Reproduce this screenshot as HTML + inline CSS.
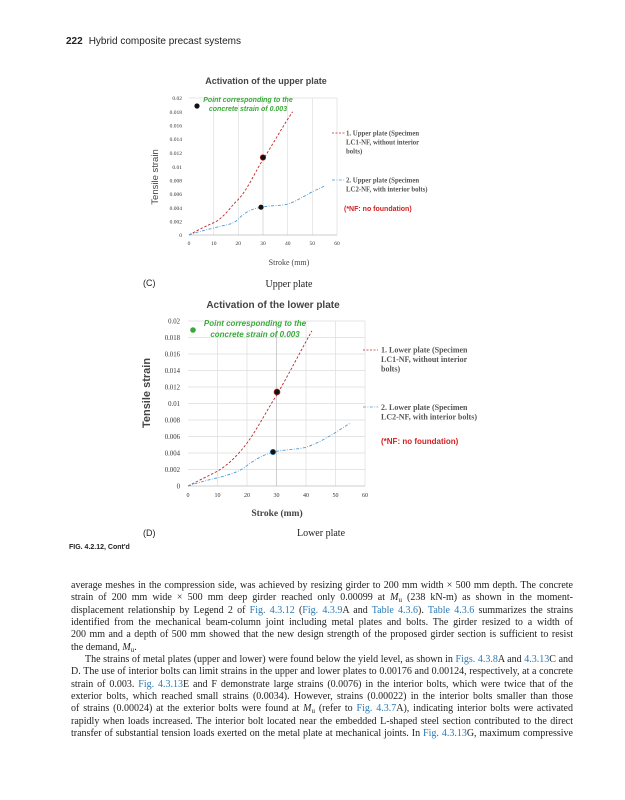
<!DOCTYPE html>
<html><head><meta charset="utf-8"><style>
html,body{margin:0;padding:0;background:#fff;}
body{width:625px;height:800px;position:relative;overflow:hidden;}
svg{position:absolute;left:0;top:0;}
.tx{position:absolute;left:71px;width:502px;font-family:"Liberation Serif",serif;font-size:10px;color:#222;}
.tx div{height:12.33px;line-height:12.33px;text-align:justify;text-align-last:justify;white-space:nowrap;overflow:hidden;}
.tx div.l{text-align-last:left;}
.tx div.i{text-indent:14px;}
.tx sub{font-size:7px;vertical-align:0;position:relative;top:2px;line-height:0;}
.b{color:#2a7ab8;}
</style></head><body>
<svg width="625" height="800" viewBox="0 0 625 800" font-family="Liberation Sans, sans-serif">
<text x="66" y="44" font-size="10" fill="#222"><tspan font-weight="bold">222</tspan><tspan dx="6">Hybrid composite precast systems</tspan></text>

<!-- Upper chart -->
<text x="266" y="84" font-size="9" font-weight="bold" fill="#444" text-anchor="middle">Activation of the upper plate</text>
<g stroke="#ddd" stroke-width="0.7">
<line x1="213.7" y1="98" x2="213.7" y2="235"/><line x1="238.3" y1="98" x2="238.3" y2="235"/>
<line x1="263" y1="98" x2="263" y2="235" stroke="#ccc"/><line x1="287.7" y1="98" x2="287.7" y2="235"/>
<line x1="312.3" y1="98" x2="312.3" y2="235"/><line x1="337" y1="98" x2="337" y2="235"/>
<line x1="189" y1="98" x2="337" y2="98"/>
</g>
<line x1="189" y1="235" x2="337" y2="235" stroke="#bbb" stroke-width="0.7"/>
<g font-family="Liberation Serif, serif" font-size="5.5" fill="#333" text-anchor="end">
<text x="182" y="100">0.02</text><text x="182" y="114">0.018</text><text x="182" y="127.5">0.016</text>
<text x="182" y="141">0.014</text><text x="182" y="155">0.012</text><text x="182" y="169">0.01</text>
<text x="182" y="182.5">0.008</text><text x="182" y="196">0.006</text><text x="182" y="210">0.004</text>
<text x="182" y="223.5">0.002</text><text x="182" y="237">0</text>
</g>
<g font-family="Liberation Serif, serif" font-size="5.5" fill="#333" text-anchor="middle">
<text x="189" y="245">0</text><text x="213.7" y="245">10</text><text x="238.3" y="245">20</text><text x="263" y="245">30</text>
<text x="287.7" y="245">40</text><text x="312.3" y="245">50</text><text x="337" y="245">60</text>
</g>
<text x="289" y="265" font-family="Liberation Serif, serif" font-size="8" fill="#444" text-anchor="middle">Stroke (mm)</text>
<text transform="translate(158,177) rotate(-90)" font-size="9.5" fill="#444" text-anchor="middle">Tensile strain</text>
<path d="M189,235 C200,229 206,226 213.7,222.7 C224,218 231,206 238.3,199.4 C248,189 255,172 263,159.6 C273,144 283,126 292.6,111.7" fill="none" stroke="#c0282a" stroke-width="0.9" stroke-dasharray="2.5,1.8"/>
<path d="M189,235 C200,231 206,230 213.7,228 C224,225 230,225 235.9,221.3 C244,213 250,209 260.5,207.6 C270,205 280,206 287.7,204.2 C297,201 304,196 312.3,191.8 C318,189 321,188 324.7,185.7" fill="none" stroke="#4a9ad8" stroke-width="0.9" stroke-dasharray="3,1.5,0.8,1.5"/>
<circle cx="263" cy="157.5" r="2.8" fill="#111" stroke="#c0282a" stroke-width="0.6"/>
<circle cx="261" cy="207.2" r="2.6" fill="#111"/>
<circle cx="197" cy="106" r="2.6" fill="#111"/>
<g font-size="7" font-style="italic" font-weight="bold" fill="#3aa83a" text-anchor="middle">
<text x="248" y="102">Point corresponding to the</text><text x="248" y="111">concrete strain of 0.003</text>
</g>
<line x1="332" y1="133" x2="345" y2="133" stroke="#c0282a" stroke-width="0.8" stroke-dasharray="2,1.5"/>
<line x1="332" y1="180" x2="345" y2="180" stroke="#4a9ad8" stroke-width="0.8" stroke-dasharray="3,1.5,0.8,1.5"/>
<g font-family="Liberation Serif, serif" font-size="6.8" font-weight="bold" fill="#555">
<text x="346" y="135.5">1. Upper plate (Specimen</text><text x="346" y="144.5">LC1-NF, without interior</text><text x="346" y="153.5">bolts)</text>
<text x="346" y="182.5">2. Upper plate (Specimen</text><text x="346" y="191.5">LC2-NF, with interior bolts)</text>
</g>
<text x="344" y="211" font-size="7" font-weight="bold" fill="#d42020">(*NF: no foundation)</text>
<text x="143" y="286" font-size="9" fill="#222">(C)</text>
<text x="289" y="287" font-family="Liberation Serif, serif" font-size="10" fill="#222" text-anchor="middle">Upper plate</text>

<!-- Lower chart -->
<text x="273" y="308" font-size="10" font-weight="bold" fill="#444" text-anchor="middle">Activation of the lower plate</text>
<g stroke="#ddd" stroke-width="0.7">
<line x1="188" y1="321" x2="365" y2="321"/><line x1="188" y1="337.5" x2="365" y2="337.5"/><line x1="188" y1="354" x2="365" y2="354"/>
<line x1="188" y1="370.5" x2="365" y2="370.5"/><line x1="188" y1="387" x2="365" y2="387"/><line x1="188" y1="403.5" x2="365" y2="403.5"/>
<line x1="188" y1="420" x2="365" y2="420"/><line x1="188" y1="436.5" x2="365" y2="436.5"/><line x1="188" y1="453" x2="365" y2="453"/>
<line x1="188" y1="469.5" x2="365" y2="469.5"/>
<line x1="217.5" y1="321" x2="217.5" y2="486"/><line x1="247" y1="321" x2="247" y2="486"/>
<line x1="276.5" y1="321" x2="276.5" y2="486" stroke="#bbb"/><line x1="306" y1="321" x2="306" y2="486"/>
<line x1="335.5" y1="321" x2="335.5" y2="486"/><line x1="365" y1="321" x2="365" y2="486"/>
</g>
<line x1="188" y1="486" x2="365" y2="486" stroke="#bbb" stroke-width="0.7"/>
<g font-family="Liberation Serif, serif" font-size="6.8" fill="#333" text-anchor="end">
<text x="180" y="323.5">0.02</text><text x="180" y="340">0.018</text><text x="180" y="356.5">0.016</text>
<text x="180" y="373">0.014</text><text x="180" y="389.5">0.012</text><text x="180" y="406">0.01</text>
<text x="180" y="422.5">0.008</text><text x="180" y="439">0.006</text><text x="180" y="455.5">0.004</text>
<text x="180" y="472">0.002</text><text x="180" y="488.5">0</text>
</g>
<g font-family="Liberation Serif, serif" font-size="6" fill="#333" text-anchor="middle">
<text x="188" y="497">0</text><text x="217.5" y="497">10</text><text x="247" y="497">20</text><text x="276.5" y="497">30</text>
<text x="306" y="497">40</text><text x="335.5" y="497">50</text><text x="365" y="497">60</text>
</g>
<text x="277" y="516" font-family="Liberation Serif, serif" font-size="9.5" font-weight="bold" fill="#444" text-anchor="middle">Stroke (mm)</text>
<text transform="translate(150,393) rotate(-90)" font-size="11" font-weight="bold" fill="#444" text-anchor="middle">Tensile strain</text>
<path d="M188,486 C200,480 208,476 217.5,471.2 C228,465 238,455 247,443.1 C258,428 267,410 276.5,395.3 C289,374 300,352 311.9,330.9" fill="none" stroke="#c0282a" stroke-width="0.9" stroke-dasharray="2.5,1.8"/>
<path d="M188,486 C200,482 208,480 217.5,477.8 C228,475 236,473 244,467.9 C254,460 262,455 273.6,452.2 C285,449 296,450 306,447.2 C322,442 336,432 350,423.3" fill="none" stroke="#4a9ad8" stroke-width="0.9" stroke-dasharray="3,1.5,0.8,1.5"/>
<circle cx="277" cy="392" r="3" fill="#111" stroke="#c0282a" stroke-width="0.7"/>
<circle cx="273" cy="452" r="2.8" fill="#111" stroke="#4a9ad8" stroke-width="0.6"/>
<circle cx="193" cy="330" r="2.8" fill="#3aa83a"/>
<g font-size="8" font-style="italic" font-weight="bold" fill="#3aa83a" text-anchor="middle">
<text x="255" y="326">Point corresponding to the</text><text x="255" y="337">concrete strain of 0.003</text>
</g>
<line x1="363" y1="350" x2="378" y2="350" stroke="#c0282a" stroke-width="0.8" stroke-dasharray="2,1.5"/>
<line x1="363" y1="407" x2="378" y2="407" stroke="#4a9ad8" stroke-width="0.8" stroke-dasharray="3,1.5,0.8,1.5"/>
<g font-family="Liberation Serif, serif" font-size="8" font-weight="bold" fill="#555">
<text x="381" y="352.5">1. Lower plate (Specimen</text><text x="381" y="362">LC1-NF, without interior</text><text x="381" y="371.5">bolts)</text>
<text x="381" y="410">2. Lower plate (Specimen</text><text x="381" y="419.5">LC2-NF, with interior bolts)</text>
</g>
<text x="381" y="444" font-size="8" font-weight="bold" fill="#d42020">(*NF: no foundation)</text>
<text x="143" y="536" font-size="9" fill="#222">(D)</text>
<text x="321" y="536" font-family="Liberation Serif, serif" font-size="10" fill="#222" text-anchor="middle">Lower plate</text>

<text x="69" y="549" font-size="7" font-weight="bold" fill="#222">FIG. 4.2.12, Cont'd</text>
</svg>
<div class="tx" style="top:580px">
<div>average meshes in the compression side, was achieved by resizing girder to 200 mm width × 500 mm depth. The concrete</div>
<div>strain of 200 mm wide × 500 mm deep girder reached only 0.00099 at <i>M</i><sub>u</sub> (238 kN-m) as shown in the moment-</div>
<div>displacement relationship by Legend 2 of <span class="b">Fig. 4.3.12</span> (<span class="b">Fig. 4.3.9</span>A and <span class="b">Table 4.3.6</span>). <span class="b">Table 4.3.6</span> summarizes the strains</div>
<div>identified from the mechanical beam-column joint including metal plates and bolts. The girder resized to a width of</div>
<div>200 mm and a depth of 500 mm showed that the new design strength of the proposed girder section is sufficient to resist</div>
<div class="l">the demand, <i>M</i><sub>u</sub>.</div>
<div class="i">The strains of metal plates (upper and lower) were found below the yield level, as shown in <span class="b">Figs. 4.3.8</span>A and <span class="b">4.3.13</span>C and</div>
<div>D. The use of interior bolts can limit strains in the upper and lower plates to 0.00176 and 0.00124, respectively, at a concrete</div>
<div>strain of 0.003. <span class="b">Fig. 4.3.13</span>E and F demonstrate large strains (0.0076) in the interior bolts, which were twice that of the</div>
<div>exterior bolts, which reached small strains (0.0034). However, strains (0.00022) in the interior bolts smaller than those</div>
<div>of strains (0.00024) at the exterior bolts were found at <i>M</i><sub>u</sub> (refer to <span class="b">Fig. 4.3.7</span>A), indicating interior bolts were activated</div>
<div>rapidly when loads increased. The interior bolt located near the embedded L-shaped steel section contributed to the direct</div>
<div>transfer of substantial tension loads exerted on the metal plate at mechanical joints. In <span class="b">Fig. 4.3.13</span>G, maximum compressive</div>
</div>
</body></html>
